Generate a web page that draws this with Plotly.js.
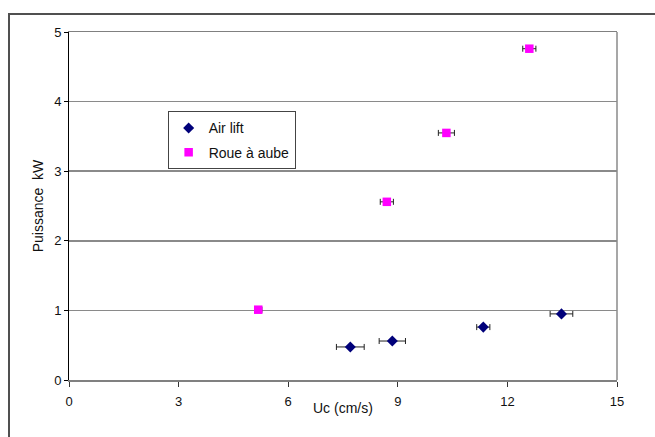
<!DOCTYPE html>
<html>
<head>
<meta charset="utf-8">
<script src="https://cdn.plot.ly/plotly-3.0.1.min.js"></script>
<style>
  html, body { margin: 0; padding: 0; width: 655px; height: 437px; overflow: hidden; background: #fff; }
  #frame { position: absolute; left: 8px; top: 13px; width: 700px; height: 500px; border: 2px solid #505050; box-sizing: border-box; }
  #chart { position: absolute; left: 0; top: 0; width: 655px; height: 437px; }
</style>
</head>
<body>
<div id="frame"></div>
<div id="chart"></div>
<script>
// Air lift series
const airLiftX = [7.70, 8.85, 11.34, 13.48];
const airLiftY = [0.475, 0.56, 0.76, 0.95];
const airLiftErrX = [0.38, 0.36, 0.18, 0.31];

// Roue à aube series
const roueX = [5.18, 8.70, 10.33, 12.60];
const roueY = [1.01, 2.56, 3.55, 4.76];
const roueErrX = [0.10, 0.18, 0.22, 0.18];

const xTicks = [0, 3, 6, 9, 12, 15];
const yTicks = [0, 1, 2, 3, 4, 5];
const xTitle = 'Uc (cm/s)';
const yTitle = 'Puissance  kW';

const fam = 'Liberation Sans, Arial, sans-serif';
const font = { family: fam, size: 13, color: '#111' };

const traces = [
  {
    name: 'Air lift', x: airLiftX, y: airLiftY, type: 'scatter', mode: 'markers',
    legendgroup: 'a',
    marker: { symbol: 'diamond', size: 8.5, color: '#00007a' },
    error_x: { type: 'data', array: airLiftErrX, visible: true, color: '#222', thickness: 1, width: 3 },
    cliponaxis: false
  },
  {
    name: 'Roue à aube', x: roueX, y: roueY, type: 'scatter', mode: 'markers',
    legendgroup: 'b',
    marker: { symbol: 'square', size: 8.5, color: '#ff00ff' },
    error_x: { type: 'data', array: roueErrX, visible: true, color: '#222', thickness: 1, width: 3 },
    cliponaxis: false
  }
];

const layout = {
  width: 655, height: 437,
  margin: { l: 69, r: 38, t: 32, b: 57 },
  paper_bgcolor: 'rgba(0,0,0,0)',
  plot_bgcolor: '#fff',
  font: font,
  showlegend: true,
  legend: {
    x: 0.18, y: 0.772, xanchor: 'left', yanchor: 'top',
    bordercolor: '#444', borderwidth: 1, bgcolor: '#fff',
    font: { family: fam, size: 14, color: '#111' },
    traceorder: 'grouped', tracegroupgap: 3
  },
  xaxis: {
    range: [0, 15], tickvals: xTicks, ticktext: xTicks.map(String),
    showgrid: false, zeroline: false,
    showline: true, linecolor: '#808080', linewidth: 1.5, mirror: true,
    ticks: 'outside', ticklen: 5, tickcolor: '#333', tickwidth: 1,
    ticklabelstandoff: 4
  },
  yaxis: {
    range: [0, 5], tickvals: yTicks, ticktext: yTicks.map(String),
    showgrid: true, gridcolor: '#8a8a8a', gridwidth: 1.5, zeroline: false,
    showline: true, linecolor: '#000', linewidth: 1,
    ticks: 'outside', ticklen: 4, tickcolor: '#000', tickwidth: 1,
    title: { text: yTitle, font: { family: fam, size: 14, color: '#111' }, standoff: 7 }
  },
  annotations: [
    { text: xTitle, xref: 'paper', yref: 'paper', x: 0.5, y: 0, yshift: -28,
      xanchor: 'center', yanchor: 'middle', showarrow: false,
      font: { family: fam, size: 14, color: '#111' } }
  ],
  shapes: [
    { type: 'line', xref: 'paper', yref: 'paper', x0: 1, x1: 1, y0: 0, y1: 1, line: { color: '#8a8a8a', width: 1.5 } }
  ]
};

Plotly.newPlot('chart', traces, layout, { displayModeBar: false, staticPlot: true });
</script>
</body>
</html>
